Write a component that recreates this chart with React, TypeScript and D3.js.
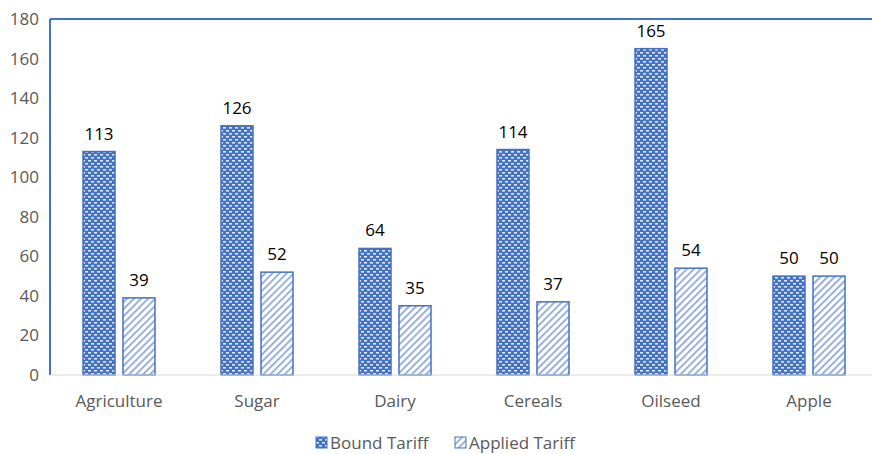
import React from "react";
import * as d3 from "d3";

const categories = ["Agriculture", "Sugar", "Dairy", "Cereals", "Oilseed", "Apple"];
const boundTariff = [113, 126, 64, 114, 165, 50];
const appliedTariff = [39, 52, 35, 37, 54, 50];
const yTicks = [0, 20, 40, 60, 80, 100, 120, 140, 160, 180];
const seriesNames = ["Bound Tariff", "Applied Tariff"];

const W = 872;
const H = 454;
const margin = { left: 50, right: -6, top: 19, bottom: 79 };
const BLUE = "#4472C4";
const FONT = "'Open Sans', 'Noto Sans', sans-serif";

export default function App() {
  const x = d3
    .scaleBand<string>()
    .domain(categories)
    .range([margin.left, W - margin.right])
    .paddingInner(0)
    .paddingOuter(0);
  const y = d3.scaleLinear().domain([0, 180]).range([H - margin.bottom, margin.top]);
  const barW = 32;
  const gap = 8;

  const series = [boundTariff, appliedTariff];

  return (
    <svg
      width={W}
      height={H}
      style={{ position: "absolute", left: 0, top: 0, background: "#fff" }}
      fontFamily={FONT}
    >
      <defs>
        <pattern id="dots" width="6" height="6" patternUnits="userSpaceOnUse">
          <rect width="6" height="6" fill={BLUE} />
          <rect x="1" y="1" width="3" height="1.6" fill="#dfe8f7" />
          <rect x="4" y="4" width="3" height="1.6" fill="#dfe8f7" />
          <rect x="-2" y="4" width="3" height="1.6" fill="#dfe8f7" />
        </pattern>
        <pattern
          id="stripes"
          width="5"
          height="5"
          patternUnits="userSpaceOnUse"
          patternTransform="rotate(45)"
        >
          <rect width="5" height="5" fill="#fff" />
          <rect width="1.8" height="5" fill="#8fa9dc" />
        </pattern>
      </defs>

      {/* plot frame: top and left edges */}
      <line x1={margin.left} x2={W} y1={margin.top} y2={margin.top} stroke={BLUE} strokeWidth={2} />
      <line
        x1={margin.left}
        x2={margin.left}
        y1={margin.top}
        y2={y(0)}
        stroke={BLUE}
        strokeWidth={2}
      />

      {/* y axis labels */}
      {yTicks.map((t) => (
        <text
          key={t}
          x={margin.left - 11}
          y={y(t)}
          dy="0.35em"
          textAnchor="end"
          fontSize={17}
          fill="#595959"
        >
          {t}
        </text>
      ))}

      {/* bars */}
      {categories.map((c, i) => {
        const cx = (x(c) as number) + x.bandwidth() / 2;
        return (
          <g key={c}>
            {series.map((vals, s) => {
              const bx = s === 0 ? cx - gap / 2 - barW : cx + gap / 2;
              const v = vals[i];
              return (
                <g key={s}>
                  <rect
                    x={bx}
                    y={y(v)}
                    width={barW}
                    height={y(0) - y(v)}
                    fill={s === 0 ? "url(#dots)" : "url(#stripes)"}
                    stroke={BLUE}
                    strokeWidth={1.5}
                  />
                  <text
                    x={bx + barW / 2}
                    y={y(v) - 12}
                    textAnchor="middle"
                    fontSize={17}
                    fill="#000"
                  >
                    {v}
                  </text>
                </g>
              );
            })}
            <text x={cx} y={y(0) + 32} textAnchor="middle" fontSize={17} fill="#595959">
              {c}
            </text>
          </g>
        );
      })}

      {/* baseline */}
      <line x1={margin.left} x2={W} y1={y(0)} y2={y(0)} stroke="#d9d9d9" strokeWidth={1} />

      {/* legend */}
      {seriesNames.map((n, i) => {
        const lx = i === 0 ? 316 : 455;
        return (
          <g key={n}>
            <rect
              x={lx}
              y={437}
              width={11}
              height={11}
              fill={i === 0 ? "url(#dots)" : "url(#stripes)"}
              stroke={BLUE}
              strokeWidth={1}
            />
            <text x={lx + 14} y={449} fontSize={17} fill="#595959">
              {n}
            </text>
          </g>
        );
      })}
    </svg>
  );
}
